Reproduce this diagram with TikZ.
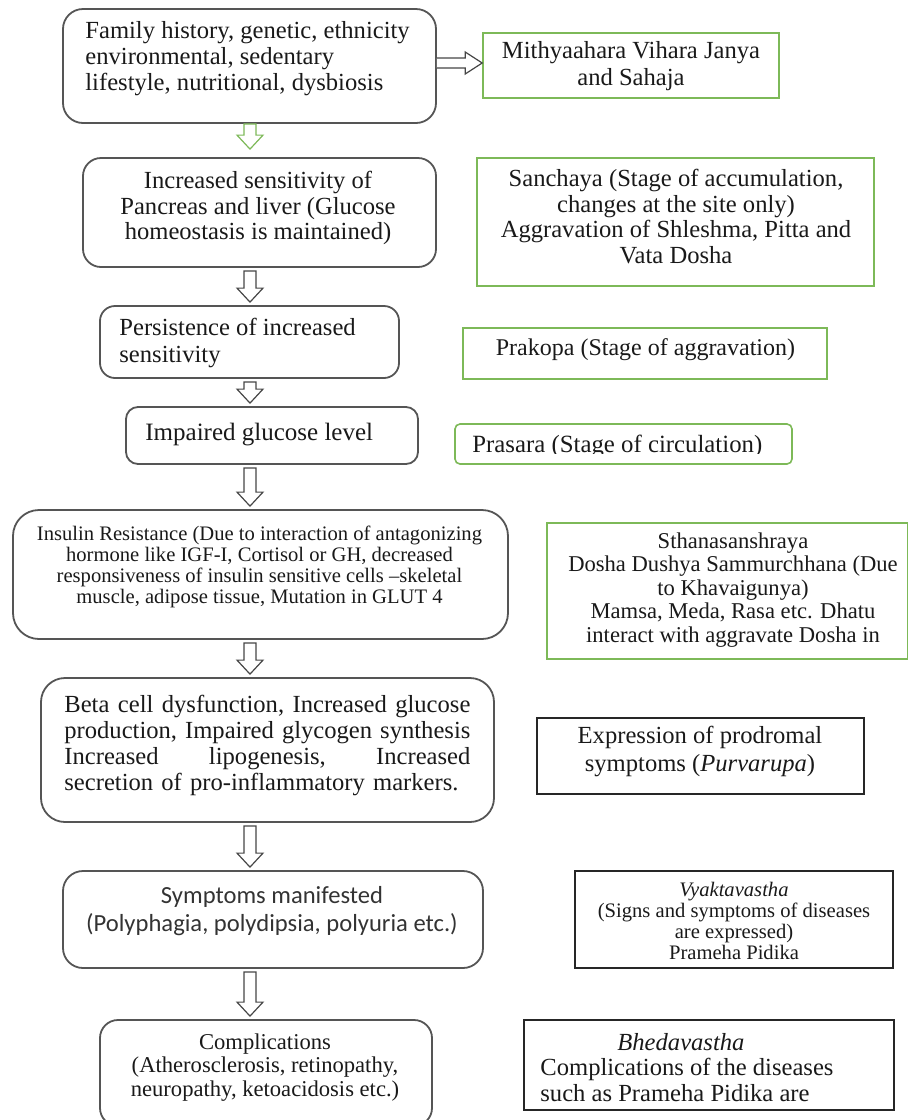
\documentclass[tikz,border=0pt]{standalone}
\usepackage{fontspec}
\setmainfont{Liberation Serif}
\newfontfamily\calibrifont{Carlito}
\usetikzlibrary{calc, fit}
\definecolor{flowgray}{RGB}{85,85,85}
\definecolor{arrowgray}{RGB}{70,70,70}
\definecolor{stagegreen}{RGB}{125,185,88}
\tikzset{ % box styles: grey rounded = body, green = dosha stage, black = stage of disease
  my box/.style={inner sep=0,line width=0.9pt},
  flow box/.style={my box,draw=flowgray,rounded corners=#1},
  flow box/.default=9pt,
  stage box/.style={my box,draw=stagegreen,line width=0.8pt},
  phase box/.style={my box,draw=black!85,line width=0.8pt},
  my text/.style={inner sep=0,text=black!90,align=#1},
  my text/.default=center,
  fs/.style 2 args={font=\fontsize{#1}{#2}\selectfont}
}
% hollow block arrows between boxes
\newcommand{\downshaft}[3][draw=arrowgray]{%
  \draw[#1,line width=0.6pt,fill=white]
    ($(#2)+(-3pt,0)$) -- ($(#3)+(-3pt,7pt)$) -- ($(#3)+(-6.5pt,7pt)$) -- (#3)
    -- ($(#3)+(6.5pt,7pt)$) -- ($(#3)+(3pt,7pt)$) -- ($(#2)+(3pt,0)$) -- cycle;}
\newcommand{\rightshaft}[3][draw=arrowgray]{%
  \draw[#1,line width=0.6pt,fill=white]
    ($(#2)+(0,2.5pt)$) -- ($(#3)+(-8.5pt,2.5pt)$) -- ($(#3)+(-8.5pt,5.5pt)$) -- (#3)
    -- ($(#3)+(-8.5pt,-5.5pt)$) -- ($(#3)+(-8.5pt,-2.5pt)$) -- ($(#2)+(0,-2.5pt)$);}

\begin{document}
\begin{tikzpicture}[x=0.5pt,y=-0.5pt]
\useasboundingbox (0,0) rectangle (909,1120);
\clip (0,0) rectangle (909,1120);
\coordinate (spine) at (250,0);

% left column
\node[flow box=10pt, fit={(63,9) (436,123)}]    (cause)    {};
\node[flow box=9pt,  fit={(83,158) (436,267)}]  (incr)     {};
\node[flow box=7.5pt,fit={(100,306) (399,378)}] (persist)  {};
\node[flow box=6pt,  fit={(126,407) (418,464)}] (impaired) {};
\node[flow box=13pt, fit={(13,510) (508,639)}]  (insulin)  {};
\node[flow box=12pt, fit={(41,678) (494,822)}]  (beta)     {};
\node[flow box=10pt, fit={(63,871) (483,968)}]  (symptoms) {};
\node[flow box=9pt,  fit={(100,1020) (432,1126)}] (compl)  {};

\node[my text=left, fs={12.3}{13}, anchor=west] (cause-t) at (85,59)
  {Family history, genetic, ethnicity\\ environmental, sedentary\\ lifestyle, nutritional, dysbiosis};
\node[my text, fs={12.3}{12.6}] (incr-t) at (258,208)
  {Increased sensitivity of\\ Pancreas and liver (Glucose\\ homeostasis is maintained)};
\node[my text=left, fs={12.3}{13.5}, anchor=west] (persist-t) at (119,342.5)
  {Persistence of increased\\ sensitivity};
\node[my text=left, fs={12.5}{13}, anchor=west] (impaired-t) at (145,435)
  {Impaired glucose level};
\node[my text, fs={10.3}{10.5}] (insulin-t) at (259.5,566.5)
  {Insulin Resistance (Due to interaction of antagonizing\\ hormone like IGF-I, Cortisol or GH, decreased\\
   responsiveness of insulin sensitive cells \textendash skeletal\\ muscle, adipose tissue, Mutation in GLUT 4};
\node[my text=left, fs={12.3}{13}, anchor=west, text width=203pt] (beta-t) at (64,745)
  {\makebox[203pt][l]{Beta\hfill cell\hfill dysfunction,\hfill Increased\hfill glucose}\\
   \makebox[203pt][l]{production,\hfill Impaired\hfill glycogen\hfill synthesis}\\
   \makebox[203pt][l]{Increased\hfill lipogenesis,\hfill Increased}\\
   secretion of pro-inflammatory markers.};
\node[my text, font=\calibrifont\fontsize{12.3}{14}\selectfont, text=black!80] (symptoms-t) at (272,911)
  {Symptoms manifested\\ (Polyphagia, polydipsia, polyuria etc.)};
\node[my text, fs={11.3}{11.75}] (compl-t) at (265,1067.5)
  {Complications\\ (Atherosclerosis, retinopathy,\\ neuropathy, ketoacidosis etc.)};

% right column
\node[stage box, fit={(483,33) (779,98)}]    (mithya)   {};
\node[stage box, fit={(477,158) (874,286)}]  (sanchaya) {};
\node[stage box, fit={(463,328) (827,379)}]  (prakopa)  {};
\node[stage box, rounded corners=2.5pt, fit={(455,424) (792,464)}] (prasara) {};
\node[stage box, fit={(547,523) (907.5,659)}] (sthana)  {};
\node[phase box, fit={(537,718) (864,794)}]  (purva)    {};
\node[phase box, fit={(575,871) (893,968)}]  (vyakta)   {};
\node[phase box, fit={(524,1020) (894,1110)}] (bheda)   {};

\node[my text, fs={12.3}{13.5}] (mithya-t) at (631,66.5)
  {Mithyaahara Vihara Janya\\ and Sahaja};
\node[my text, fs={12.3}{12.8}] (sanchaya-t) at (676,216.5)
  {Sanchaya (Stage of accumulation,\\ changes at the site only)\\ Aggravation of Shleshma, Pitta and\\ Vata Dosha};
\node[my text, fs={12}{12}] (prakopa-t) at (645.5,350)
  {Prakopa (Stage of aggravation)};
\begin{scope}
  \clip (455,424) rectangle (792,453);
  \node[my text=left, fs={12.4}{13}, anchor=west] (prasara-t) at (472,446)
    {Prasara (Stage of circulation)};
\end{scope}
\node[my text, fs={11.3}{11.75}] (sthana-t) at (733,590)
  {Sthanasanshraya\\ Dosha Dushya Sammurchhana (Due\\ to Khavaigunya)\\
   Mamsa, Meda, Rasa etc. Dhatu\\ interact with aggravate Dosha in};
\node[my text, fs={12.3}{14}] (purva-t) at (700,751)
  {Expression of prodromal\\ symptoms (\textit{Purvarupa})};
\node[my text, fs={10.3}{10.5}] (vyakta-t) at (734,920.5)
  {\textit{Vyaktavastha}\\ (Signs and symptoms of diseases\\ are expressed)\\ Prameha Pidika};
\node[my text=left, fs={12.3}{12.75}, anchor=west] (bheda-t) at (540,1067.5)
  {\hspace*{38.5pt}\textit{Bhedavastha}\\ Complications of the diseases\\ such as Prameha Pidika are};

% arrows
\coordinate (g1) at (cause.south -| spine);
\coordinate (g2) at ($(incr.north -| spine)+(0,4pt)$);
\downshaft[draw=stagegreen]{g1}{g2}
\foreach \a/\b in {incr/persist,persist/impaired,impaired/insulin,insulin/beta,beta/symptoms,symptoms/compl}
{
  \coordinate (s) at ($(\a.south -| spine)+(0,-1.5pt)$);
  \coordinate (e) at ($(\b.north -| spine)+(0,1.5pt)$);
  \downshaft{s}{e}
}
\coordinate (r1) at ([yshift=1.5pt]cause.east);
\coordinate (r2) at (r1 -| mithya.west);
\rightshaft{r1}{r2}
\end{tikzpicture}
\end{document}
